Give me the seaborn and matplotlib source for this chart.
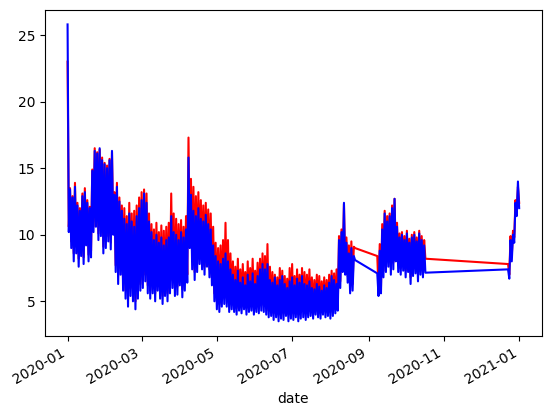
import numpy as np
import pandas as pd
import matplotlib
matplotlib.use("Agg")
import matplotlib.pyplot as plt
import matplotlib.dates as mdates
import seaborn as sns

# Segment start dates (data has gaps between segments)
SEG_STARTS = ["2020-01-01", "2020-09-08", "2020-12-23"]

# Two-day blocks: a high reading followed by a low reading
BLUE_HI_1 = [25.8,
             13.4, 12.8, 13.6, 12.2, 11.8, 12.9, 13.2, 12.4, 12.0,
             14.8, 16.3, 16.1, 16.5, 15.6,
             15.3, 15.0, 15.6, 16.3,
             13.0, 13.6, 12.5,
             11.8, 11.2, 10.8, 11.6, 11.0, 10.6, 11.4, 12.0, 12.6,
             13.1, 12.4, 11.0,
             10.2, 9.6, 10.0, 9.4, 9.8, 9.2, 9.6, 9.8,
             11.4, 10.2,
             10.0, 9.6, 10.2, 9.8, 10.4,
             15.8, 13.0,
             11.8, 11.4, 12.0, 11.2, 11.0, 11.5, 10.8, 10.4,
             9.2, 8.4, 8.0, 7.8, 8.2,
             8.6, 8.0, 7.4,
             7.0, 6.6, 7.3, 6.4, 6.8, 6.2, 7.0, 6.5, 7.1, 6.3, 6.9, 7.4, 7.8,
             7.4, 7.8, 6.6,
             6.4, 6.8, 6.2, 6.6, 6.9, 6.3, 6.0, 6.5, 6.8, 6.2, 6.7, 6.4, 6.9, 6.3,
             6.2, 6.5, 6.0, 5.9, 6.3, 6.1, 5.8, 6.2, 6.0, 6.4, 6.9, 6.6, 6.3,
             9.6, 10.2, 12.4, 9.4, 8.6, 9.0, 8.4]
BLUE_LO_1 = [10.2,
             9.0, 8.0, 8.6, 7.6, 8.4, 7.8, 9.2, 8.0, 8.3,
             10.2, 10.6, 9.6, 9.9, 8.6,
             9.0, 9.5, 8.9, 10.0,
             7.2, 6.3, 7.0,
             5.8, 5.2, 4.6, 5.4, 5.0, 4.4, 5.2, 5.8, 6.0,
             6.5, 5.6, 5.2,
             5.6, 5.0, 5.8, 5.2, 4.8, 5.4, 5.0, 5.6,
             6.0, 5.4,
             5.5, 6.2, 5.3, 5.8, 6.4,
             9.0, 7.4,
             6.6, 7.2, 7.8, 7.4, 7.0, 7.6, 6.8, 6.2,
             5.0, 4.4, 4.2, 4.6, 4.8,
             4.6, 4.2, 4.4,
             4.2, 4.0, 4.3, 4.1, 4.4, 4.0, 4.2, 4.3, 4.0, 4.2, 4.1, 4.3, 4.2,
             4.0, 3.8, 3.9,
             3.6, 3.8, 3.5, 3.7, 3.6, 3.9, 3.5, 3.7, 3.6, 3.8, 3.5, 3.7, 3.8, 3.6,
             3.8, 3.9, 3.7, 4.0, 3.8, 3.7, 4.0, 3.8, 3.9, 3.7, 3.9, 4.1, 4.3,
             6.0, 7.2, 7.0, 6.4, 5.6, 5.8, 8.1]
RED_HI_1 = [23.0,
            13.5, 12.9, 13.9, 12.4, 12.0, 13.1, 13.5, 12.6, 12.1,
            14.9, 16.5, 16.2, 16.4, 15.8,
            15.4, 15.2, 15.7, 16.2,
            13.2, 13.9, 12.8,
            12.2, 12.0, 11.4, 12.4, 11.6, 11.8, 12.2, 12.8, 13.2,
            13.4, 13.1, 11.6,
            10.8, 10.4, 10.9, 10.2, 10.7, 10.3, 10.6, 10.9,
            13.1, 11.6,
            11.2, 10.8, 11.1, 10.6, 11.4,
            17.3, 14.2,
            13.6, 12.9, 13.2, 12.6, 12.2, 12.4, 11.9, 11.6,
            10.6, 9.4, 9.0, 9.2, 9.6,
            10.9, 9.6, 8.6,
            8.0, 7.6, 8.2, 7.4, 7.8, 7.2, 8.0, 7.5, 8.2, 7.3, 7.9, 8.2, 8.6,
            8.4, 9.3, 7.6,
            7.2, 7.0, 6.8, 7.5, 7.3, 6.9, 6.7, 7.5, 7.8, 6.9, 7.4, 7.0, 7.5, 7.2,
            7.0, 7.4, 6.8, 6.6, 7.0, 6.9, 6.5, 6.8, 6.6, 7.0, 7.3, 7.1, 7.4,
            9.9, 10.4, 12.3, 9.8, 9.2, 9.5, 9.1]
RED_LO_1 = [10.6,
            9.5, 8.6, 9.1, 8.2, 8.9, 8.3, 9.6, 8.5, 8.8,
            10.6, 11.0, 10.1, 10.3, 9.1,
            9.5, 9.9, 9.4, 10.4,
            7.7, 6.9, 7.5,
            6.4, 5.8, 5.2, 6.0, 5.6, 5.0, 5.8, 6.3, 6.6,
            7.0, 6.2, 5.8,
            6.2, 5.6, 6.3, 5.8, 5.4, 6.0, 5.6, 6.2,
            6.6, 6.0,
            6.1, 6.8, 5.9, 6.4, 7.0,
            9.6, 8.0,
            7.2, 7.8, 8.4, 8.0, 7.6, 8.2, 7.4, 6.8,
            5.6, 5.0, 4.8, 5.2, 5.4,
            5.2, 4.8, 5.0,
            4.7, 4.5, 4.8, 4.6, 4.9, 4.5, 4.7, 4.8, 4.5, 4.7, 4.6, 4.8, 4.7,
            4.5, 4.3, 4.4,
            4.1, 4.3, 4.0, 4.2, 4.1, 4.4, 4.0, 4.2, 4.1, 4.3, 4.0, 4.2, 4.3, 4.1,
            4.3, 4.4, 4.2, 4.5, 4.3, 4.2, 4.5, 4.3, 4.4, 4.2, 4.4, 4.6, 4.8,
            6.5, 7.7, 7.5, 6.9, 6.1, 6.3, 9.0]

BLUE_HI_2 = [7.1, 8.8, 10.4, 11.6, 11.0, 11.4, 12.0, 12.7, 10.6, 9.8,
             10.0, 9.6, 10.1, 9.4, 9.8, 10.0, 9.5, 10.1, 9.6, 9.2]
BLUE_LO_2 = [5.4, 5.6, 6.8, 7.2, 7.6, 7.0, 7.4, 8.0, 7.2, 7.0,
             7.3, 6.8, 7.2, 6.3, 6.9, 7.1, 6.5, 7.0, 6.8, 7.15]
RED_HI_2 = [8.4, 9.3, 10.8, 11.8, 11.4, 11.6, 12.2, 12.7, 10.9, 10.1,
            10.2, 9.9, 10.3, 9.7, 10.0, 10.2, 9.8, 10.3, 9.9, 9.6]
RED_LO_2 = [5.9, 6.1, 7.3, 7.7, 8.1, 7.5, 7.9, 8.5, 7.7, 7.5,
            7.8, 7.3, 7.7, 6.8, 7.4, 7.6, 7.0, 7.5, 7.3, 8.2]

BLUE_HI_3 = [7.4, 9.6, 10.0, 12.4, 14.0]
BLUE_LO_3 = [6.7, 8.0, 9.4, 11.4, 12.0]
RED_HI_3 = [7.8, 9.9, 10.3, 12.6, 13.6]
RED_LO_3 = [7.0, 8.4, 9.8, 11.8, 12.4]


def segment(start, red_hi, red_lo, blue_hi, blue_lo):
    red = np.column_stack([red_hi, red_lo]).ravel()
    blue = np.column_stack([blue_hi, blue_lo]).ravel()
    dates = pd.date_range(start, periods=len(red), freq="D")
    return pd.DataFrame({"date": dates, "red": red, "blue": blue})


df = pd.concat([
    segment(SEG_STARTS[0], RED_HI_1, RED_LO_1, BLUE_HI_1, BLUE_LO_1),
    segment(SEG_STARTS[1], RED_HI_2, RED_LO_2, BLUE_HI_2, BLUE_LO_2),
    segment(SEG_STARTS[2], RED_HI_3, RED_LO_3, BLUE_HI_3, BLUE_LO_3),
], ignore_index=True)

fig, ax = plt.subplots(figsize=(5.5, 4.16), dpi=100)
sns.lineplot(data=df, x="date", y="red", color="red", linewidth=1.5,
             estimator=None, ax=ax)
sns.lineplot(data=df, x="date", y="blue", color="blue", linewidth=1.5,
             estimator=None, ax=ax)

ax.xaxis.set_major_locator(mdates.MonthLocator(bymonth=[1, 3, 5, 7, 9, 11]))
ax.xaxis.set_major_formatter(mdates.DateFormatter("%Y-%m"))
ax.set_xlabel("date")
ax.set_ylabel("")
fig.autofmt_xdate()
fig.subplots_adjust(left=0.0818, right=0.985, top=0.977, bottom=0.192)
fig.savefig("out.png", dpi=100)
